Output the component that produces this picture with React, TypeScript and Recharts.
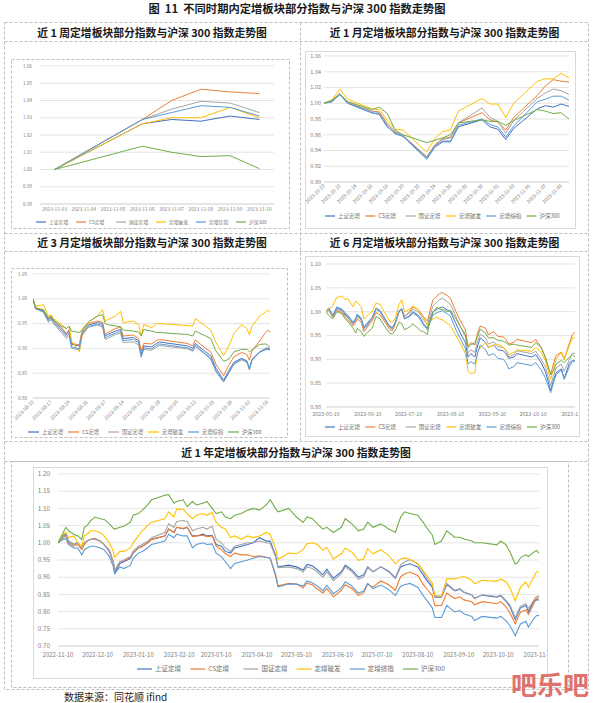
import React from 'react';
import { LineChart, Line, XAxis, YAxis, CartesianGrid } from 'recharts';

const seriesNames = ['上证定增', 'CS定增', '国证定增', '定增破发', '定增综指', '沪深300'];
const seriesColors = ['#4472C4', '#ED7D31', '#A5A5A5', '#FFC000', '#5B9BD5', '#70AD47'];

// ---------- 近1周 ----------
const wDates = ['2023-11-03', '2023-11-06', '2023-11-07', '2023-11-08', '2023-11-09', '2023-11-10'];
const wTickLabels = ['2023-11-03', '2023-11-04', '2023-11-05', '2023-11-06', '2023-11-07', '2023-11-08', '2023-11-09', '2023-11-10'];
const wSZ = [1.0, 1.0265, 1.029, 1.028, 1.031, 1.029];
const wCS = [1.0, 1.029, 1.04, 1.0465, 1.045, 1.044];
const wGZ = [1.0, 1.029, 1.035, 1.0395, 1.0385, 1.033];
const wPF = [1.0, 1.0265, 1.03, 1.03, 1.036, 1.03];
const wZZ = [1.0, 1.029, 1.033, 1.037, 1.036, 1.031];
const wHS = [1.0, 1.0135, 1.01, 1.0075, 1.008, 1.0005];
const wYTicks = [0.98, 0.99, 1.0, 1.01, 1.02, 1.03, 1.04, 1.05, 1.06];

// ---------- 近1月 ----------
const mDates = ['2023-10-10', '2023-10-11', '2023-10-12', '2023-10-13', '2023-10-16', '2023-10-17', '2023-10-18', '2023-10-19', '2023-10-20', '2023-10-23', '2023-10-24', '2023-10-25', '2023-10-26', '2023-10-27', '2023-10-30', '2023-10-31', '2023-11-01', '2023-11-02', '2023-11-03', '2023-11-06', '2023-11-07', '2023-11-08', '2023-11-09', '2023-11-10'];
const mTickLabels = ['2023-10-10', '2023-10-12', '2023-10-14', '2023-10-16', '2023-10-18', '2023-10-20', '2023-10-22', '2023-10-24', '2023-10-26', '2023-10-28', '2023-10-30', '2023-11-01', '2023-11-03', '2023-11-05', '2023-11-07', '2023-11-09'];
const mSZ = [1.0, 1.002, 1.011, 1.0, 0.988, 0.986, 0.97, 0.962, 0.958, 0.929, 0.944, 0.951, 0.951, 0.97, 0.979, 0.97, 0.967, 0.954, 0.968, 0.993, 0.997, 0.995, 0.999, 0.996];
const mCS = [1.0, 1.003, 1.012, 1.001, 0.99, 0.989, 0.974, 0.964, 0.959, 0.932, 0.947, 0.955, 0.957, 0.975, 0.988, 0.979, 0.976, 0.966, 0.982, 1.01, 1.022, 1.03, 1.028, 1.027];
const mGZ = [1.0, 1.003, 1.012, 1.001, 0.99, 0.988, 0.973, 0.963, 0.959, 0.931, 0.946, 0.954, 0.956, 0.975, 0.994, 0.982, 0.977, 0.962, 0.978, 1.006, 1.013, 1.018, 1.016, 1.011];
const mPF = [1.0, 1.004, 1.018, 1.005, 0.993, 0.992, 0.978, 0.967, 0.966, 0.938, 0.955, 0.964, 0.966, 0.99, 1.006, 0.999, 0.999, 0.982, 1.0, 1.028, 1.031, 1.031, 1.038, 1.032];
const mZZ = [1.0, 1.002, 1.011, 1.0, 0.988, 0.986, 0.971, 0.961, 0.958, 0.931, 0.945, 0.952, 0.952, 0.972, 0.98, 0.973, 0.97, 0.957, 0.971, 1.002, 1.005, 1.009, 1.009, 1.004];
const mHS = [1.0, 1.004, 1.012, 1.002, 0.992, 0.995, 0.987, 0.966, 0.96, 0.95, 0.953, 0.956, 0.96, 0.975, 0.979, 0.977, 0.977, 0.972, 0.978, 0.992, 0.99, 0.987, 0.988, 0.98];
const mYTicks = [0.9, 0.92, 0.94, 0.96, 0.98, 1.0, 1.02, 1.04, 1.06];

// ---------- 近3月 ----------
const qDates = ['2023-08-10', '2023-08-11', '2023-08-14', '2023-08-16', '2023-08-17', '2023-08-18', '2023-08-21', '2023-08-23', '2023-08-24', '2023-08-25', '2023-08-28', '2023-08-29', '2023-08-31', '2023-09-01', '2023-09-04', '2023-09-06', '2023-09-07', '2023-09-08', '2023-09-11', '2023-09-13', '2023-09-14', '2023-09-18', '2023-09-20', '2023-09-21', '2023-09-22', '2023-09-25', '2023-09-27', '2023-09-28', '2023-10-09', '2023-10-11', '2023-10-12', '2023-10-16', '2023-10-18', '2023-10-20', '2023-10-23', '2023-10-25', '2023-10-27', '2023-10-30', '2023-11-01', '2023-11-02', '2023-11-03', '2023-11-06', '2023-11-08', '2023-11-09', '2023-11-10'];
const qTickLabels = ['2023-08-10', '2023-08-17', '2023-08-24', '2023-08-31', '2023-09-07', '2023-09-14', '2023-09-21', '2023-09-28', '2023-10-05', '2023-10-12', '2023-10-19', '2023-10-26', '2023-11-02', '2023-11-09'];
const qSZ = [1.0, 0.981, 0.976, 0.958, 0.963, 0.955, 0.94, 0.928, 0.935, 0.908, 0.905, 0.932, 0.945, 0.948, 0.952, 0.95, 0.925, 0.928, 0.935, 0.938, 0.92, 0.922, 0.915, 0.888, 0.905, 0.903, 0.91, 0.913, 0.905, 0.9, 0.91, 0.893, 0.885, 0.86, 0.836, 0.855, 0.872, 0.88, 0.875, 0.86, 0.878, 0.893, 0.897, 0.898, 0.897];
const qCS = [1.0, 0.982, 0.978, 0.96, 0.965, 0.957, 0.942, 0.93, 0.938, 0.91, 0.907, 0.935, 0.948, 0.951, 0.955, 0.953, 0.928, 0.932, 0.94, 0.943, 0.925, 0.927, 0.92, 0.895, 0.91, 0.909, 0.916, 0.918, 0.91, 0.905, 0.917, 0.9, 0.893, 0.868, 0.845, 0.866, 0.883, 0.892, 0.888, 0.876, 0.895, 0.915, 0.93, 0.936, 0.934];
const qGZ = [1.0, 0.98, 0.973, 0.953, 0.958, 0.95, 0.932, 0.92, 0.926, 0.9, 0.897, 0.925, 0.94, 0.943, 0.947, 0.943, 0.918, 0.92, 0.928, 0.93, 0.912, 0.913, 0.907, 0.882, 0.898, 0.896, 0.903, 0.906, 0.899, 0.894, 0.904, 0.887, 0.878, 0.853, 0.832, 0.85, 0.868, 0.877, 0.872, 0.858, 0.876, 0.893, 0.9, 0.902, 0.9];
const qPF = [1.0, 0.985, 0.988, 0.965, 0.968, 0.96, 0.948, 0.94, 0.945, 0.915, 0.893, 0.925, 0.95, 0.955, 0.965, 0.978, 0.955, 0.958, 0.965, 0.975, 0.952, 0.955, 0.948, 0.925, 0.948, 0.942, 0.95, 0.95, 0.946, 0.945, 0.96, 0.945, 0.937, 0.912, 0.886, 0.905, 0.93, 0.948, 0.94, 0.927, 0.945, 0.965, 0.972, 0.978, 0.973];
const qZZ = [1.0, 0.98, 0.974, 0.955, 0.96, 0.952, 0.936, 0.924, 0.93, 0.903, 0.899, 0.928, 0.942, 0.945, 0.949, 0.946, 0.921, 0.924, 0.931, 0.934, 0.916, 0.918, 0.911, 0.884, 0.901, 0.899, 0.906, 0.909, 0.901, 0.896, 0.906, 0.889, 0.88, 0.855, 0.833, 0.852, 0.869, 0.878, 0.873, 0.857, 0.876, 0.892, 0.898, 0.9, 0.899];
const qHS = [1.0, 0.98, 0.978, 0.962, 0.965, 0.957, 0.945, 0.94, 0.945, 0.935, 0.932, 0.938, 0.95, 0.955, 0.965, 0.968, 0.95, 0.948, 0.945, 0.944, 0.937, 0.935, 0.933, 0.925, 0.938, 0.935, 0.932, 0.932, 0.928, 0.925, 0.935, 0.925, 0.92, 0.895, 0.874, 0.878, 0.893, 0.898, 0.898, 0.893, 0.897, 0.908, 0.909, 0.908, 0.902];
const qYTicks = [0.8, 0.85, 0.9, 0.95, 1.0, 1.05];

// ---------- 近6月 ----------
const hDates = ['2023-05-10', '2023-05-12', '2023-05-15', '2023-05-18', '2023-05-22', '2023-05-24', '2023-05-26', '2023-05-30', '2023-06-01', '2023-06-02', '2023-06-05', '2023-06-07', '2023-06-09', '2023-06-13', '2023-06-16', '2023-06-19', '2023-06-21', '2023-06-26', '2023-06-28', '2023-06-30', '2023-07-03', '2023-07-05', '2023-07-07', '2023-07-11', '2023-07-13', '2023-07-17', '2023-07-19', '2023-07-21', '2023-07-24', '2023-07-25', '2023-07-28', '2023-07-31', '2023-08-02', '2023-08-04', '2023-08-08', '2023-08-10', '2023-08-14', '2023-08-17', '2023-08-21', '2023-08-23', '2023-08-25', '2023-08-28', '2023-08-30', '2023-09-01', '2023-09-05', '2023-09-07', '2023-09-11', '2023-09-14', '2023-09-18', '2023-09-20', '2023-09-22', '2023-09-26', '2023-09-28', '2023-10-09', '2023-10-12', '2023-10-16', '2023-10-19', '2023-10-23', '2023-10-25', '2023-10-27', '2023-10-31', '2023-11-02', '2023-11-06', '2023-11-08', '2023-11-10'];
const hTickLabels = ['2023-05-10', '2023-06-10', '2023-07-10', '2023-08-10', '2023-09-10', '2023-10-10', '2023-11-10'];
const hSZ = [1.0, 1.005, 0.99, 1.008, 1.003, 0.995, 0.99, 0.975, 0.985, 0.992, 0.985, 0.965, 0.972, 0.985, 1.005, 1.0, 0.99, 0.968, 0.965, 0.975, 1.0, 1.005, 0.985, 0.992, 1.0, 0.993, 0.985, 0.975, 0.965, 0.975, 1.0, 1.005, 1.008, 1.01, 1.003, 1.0, 0.975, 0.957, 0.935, 0.905, 0.912, 0.905, 0.928, 0.945, 0.935, 0.925, 0.93, 0.92, 0.918, 0.912, 0.902, 0.905, 0.912, 0.905, 0.91, 0.893, 0.875, 0.835, 0.855, 0.872, 0.88, 0.86, 0.893, 0.897, 0.897];
const hCS = [1.0, 1.003, 0.988, 1.003, 0.998, 0.99, 0.983, 0.97, 0.978, 0.985, 0.978, 0.958, 0.965, 0.98, 0.998, 0.993, 0.985, 0.963, 0.96, 0.972, 1.0, 1.005, 0.99, 1.0, 1.01, 1.005, 0.998, 0.99, 0.98, 0.992, 1.025, 1.033, 1.038, 1.04, 1.033, 1.028, 1.0, 0.983, 0.962, 0.928, 0.935, 0.93, 0.955, 0.97, 0.965, 0.952, 0.958, 0.948, 0.947, 0.942, 0.932, 0.936, 0.942, 0.935, 0.942, 0.925, 0.905, 0.868, 0.89, 0.908, 0.915, 0.9, 0.935, 0.952, 0.957];
const hGZ = [1.0, 1.005, 0.99, 1.005, 1.0, 0.993, 0.988, 0.973, 0.982, 0.99, 0.982, 0.962, 0.968, 0.985, 1.005, 1.0, 0.99, 0.967, 0.963, 0.974, 1.002, 1.007, 0.99, 0.998, 1.005, 1.0, 0.992, 0.983, 0.972, 0.983, 1.012, 1.02, 1.025, 1.028, 1.02, 1.015, 0.99, 0.97, 0.947, 0.913, 0.92, 0.915, 0.938, 0.953, 0.945, 0.932, 0.937, 0.927, 0.925, 0.918, 0.905, 0.91, 0.918, 0.912, 0.917, 0.9, 0.885, 0.845, 0.865, 0.882, 0.89, 0.875, 0.9, 0.912, 0.913];
const hPF = [1.0, 1.005, 1.012, 1.03, 1.033, 1.025, 1.028, 1.01, 1.022, 1.02, 1.01, 0.985, 0.99, 1.0, 1.018, 1.015, 1.005, 0.98, 0.978, 0.985, 1.015, 1.025, 1.0, 1.005, 1.012, 1.005, 0.995, 0.988, 0.97, 0.978, 0.985, 0.988, 0.985, 0.983, 0.975, 0.97, 0.95, 0.935, 0.912, 0.875, 0.87, 0.872, 0.915, 0.925, 0.935, 0.925, 0.93, 0.932, 0.925, 0.92, 0.91, 0.915, 0.92, 0.917, 0.925, 0.915, 0.898, 0.858, 0.88, 0.9, 0.915, 0.9, 0.93, 0.945, 0.945];
const hZZ = [1.0, 1.008, 0.993, 1.01, 1.005, 0.998, 0.993, 0.978, 0.987, 0.995, 0.987, 0.968, 0.975, 0.988, 1.008, 1.003, 0.993, 0.97, 0.967, 0.977, 1.002, 1.006, 0.985, 0.99, 0.997, 0.99, 0.982, 0.972, 0.962, 0.97, 0.993, 0.998, 1.0, 1.002, 0.995, 0.99, 0.962, 0.945, 0.922, 0.89, 0.895, 0.89, 0.912, 0.93, 0.92, 0.908, 0.912, 0.902, 0.9, 0.893, 0.88, 0.885, 0.893, 0.887, 0.893, 0.878, 0.862, 0.83, 0.85, 0.868, 0.877, 0.858, 0.885, 0.895, 0.897];
const hHS = [1.0, 0.992, 0.985, 1.0, 0.995, 0.985, 0.98, 0.965, 0.955, 0.965, 0.958, 0.948, 0.955, 0.965, 0.99, 0.985, 0.975, 0.955, 0.953, 0.96, 0.978, 0.975, 0.962, 0.968, 0.975, 0.965, 0.96, 0.958, 0.952, 0.975, 0.998, 1.01, 1.005, 1.005, 1.0, 1.003, 0.985, 0.97, 0.952, 0.925, 0.93, 0.935, 0.948, 0.963, 0.955, 0.945, 0.945, 0.94, 0.938, 0.935, 0.93, 0.932, 0.93, 0.925, 0.935, 0.925, 0.905, 0.868, 0.875, 0.89, 0.898, 0.893, 0.905, 0.91, 0.905];
const hYTicks = [0.8, 0.85, 0.9, 0.95, 1.0, 1.05, 1.1];

// ---------- 近1年 ----------
const yDates = ['2022-11-10', '2022-11-14', '2022-11-16', '2022-11-18', '2022-11-22', '2022-11-25', '2022-11-28', '2022-11-30', '2022-12-02', '2022-12-05', '2022-12-08', '2022-12-12', '2022-12-15', '2022-12-19', '2022-12-22', '2022-12-23', '2022-12-27', '2022-12-30',
  '2023-01-04', '2023-01-06', '2023-01-10', '2023-01-13', '2023-01-17', '2023-01-20', '2023-01-30', '2023-02-02', '2023-02-06', '2023-02-08', '2023-02-13', '2023-02-16', '2023-02-20', '2023-02-23', '2023-02-28', '2023-03-03', '2023-03-07', '2023-03-10', '2023-03-14', '2023-03-17', '2023-03-21', '2023-03-24', '2023-03-29', '2023-04-03', '2023-04-07', '2023-04-12', '2023-04-17', '2023-04-20', '2023-04-24', '2023-04-26', '2023-05-04',
  '2023-05-10', '2023-05-15', '2023-05-18', '2023-05-22', '2023-05-26', '2023-05-30', '2023-06-02', '2023-06-07', '2023-06-13', '2023-06-16', '2023-06-21', '2023-06-26', '2023-06-30', '2023-07-03', '2023-07-07', '2023-07-13', '2023-07-19', '2023-07-24', '2023-07-28', '2023-07-31', '2023-08-04', '2023-08-10', '2023-08-14', '2023-08-17', '2023-08-21', '2023-08-23', '2023-08-28', '2023-09-01', '2023-09-07', '2023-09-11', '2023-09-14', '2023-09-20', '2023-09-22', '2023-09-28', '2023-10-09', '2023-10-12', '2023-10-16', '2023-10-19', '2023-10-23', '2023-10-25', '2023-10-27', '2023-10-31', '2023-11-02', '2023-11-06', '2023-11-08', '2023-11-10'];
const yTickLabels = ['2022-11-10', '2022-12-10', '2023-01-10', '2023-02-10', '2023-03-10', '2023-04-10', '2023-05-10', '2023-06-10', '2023-07-10', '2023-08-10', '2023-09-10', '2023-10-10', '2023-11-10'];
const ySZ = [1.0, 1.02, 1.025, 1.005, 0.995, 1.0, 0.985, 1.0, 1.005, 1.01, 1.012, 1.005, 0.995, 0.975, 0.94, 0.912, 0.94, 0.945,
  0.955, 0.97, 0.985, 0.99, 1.0, 1.01, 1.02, 1.04, 1.03, 1.045, 1.04, 1.045, 1.02, 1.02, 1.025, 1.02, 1.022, 0.995, 0.99, 0.975, 0.97, 0.985, 0.99, 0.995, 1.0, 1.015, 1.005, 1.005, 0.965, 0.93, 0.935,
  0.93, 0.921, 0.937, 0.933, 0.921, 0.907, 0.923, 0.897, 0.916, 0.935, 0.921, 0.9, 0.907, 0.93, 0.916, 0.93, 0.916, 0.897, 0.93, 0.935, 0.939, 0.93, 0.907, 0.89, 0.87, 0.842, 0.842, 0.879, 0.86, 0.865, 0.856, 0.848, 0.839, 0.848, 0.842, 0.846, 0.83, 0.814, 0.777, 0.795, 0.811, 0.818, 0.8, 0.83, 0.834, 0.834];
const yCS = [1.0, 1.015, 1.02, 1.0, 0.99, 0.995, 0.98, 0.995, 1.005, 1.01, 1.012, 1.005, 0.995, 0.978, 0.945, 0.92, 0.945, 0.948,
  0.958, 0.972, 0.985, 0.99, 1.0, 1.01, 1.02, 1.04, 1.03, 1.045, 1.042, 1.045, 1.018, 1.02, 1.022, 1.018, 1.02, 0.99, 0.98, 0.968, 0.96, 0.97, 0.965, 0.965, 0.96, 0.962, 0.958, 0.955, 0.91, 0.875, 0.882,
  0.88, 0.869, 0.883, 0.878, 0.865, 0.854, 0.867, 0.843, 0.862, 0.878, 0.867, 0.847, 0.855, 0.88, 0.871, 0.889, 0.878, 0.862, 0.902, 0.909, 0.915, 0.905, 0.88, 0.865, 0.847, 0.817, 0.818, 0.854, 0.838, 0.843, 0.834, 0.829, 0.82, 0.829, 0.823, 0.829, 0.814, 0.796, 0.764, 0.783, 0.799, 0.805, 0.792, 0.823, 0.838, 0.842];
const yGZ = [1.0, 1.015, 1.02, 1.005, 0.995, 0.998, 0.985, 1.0, 1.005, 1.01, 1.01, 1.005, 0.995, 0.978, 0.945, 0.92, 0.945, 0.95,
  0.96, 0.975, 0.99, 0.995, 1.005, 1.015, 1.03, 1.055, 1.045, 1.062, 1.065, 1.062, 1.035, 1.04, 1.045, 1.04, 1.048, 1.01, 1.0, 0.985, 0.975, 0.99, 0.995, 1.0, 1.0, 1.005, 1.0, 0.998, 0.96, 0.928, 0.93,
  0.925, 0.916, 0.93, 0.925, 0.914, 0.9, 0.916, 0.89, 0.911, 0.93, 0.916, 0.894, 0.901, 0.927, 0.916, 0.93, 0.918, 0.899, 0.936, 0.944, 0.951, 0.939, 0.916, 0.897, 0.876, 0.845, 0.846, 0.882, 0.862, 0.867, 0.857, 0.849, 0.837, 0.849, 0.844, 0.848, 0.833, 0.819, 0.782, 0.8, 0.816, 0.823, 0.809, 0.833, 0.844, 0.845];
const yPF = [1.0, 1.025, 1.03, 1.015, 1.02, 1.0, 0.99, 1.02, 1.025, 1.035, 1.035, 1.03, 1.02, 1.0, 0.975, 0.958, 0.975, 0.975,
  0.985, 1.0, 1.02, 1.035, 1.05, 1.06, 1.07, 1.09, 1.075, 1.098, 1.098, 1.085, 1.07, 1.08, 1.085, 1.08, 1.088, 1.06, 1.045, 1.04, 1.015, 1.02, 1.01, 1.02, 1.015, 1.02, 1.03, 1.025, 0.985, 0.952, 0.97,
  0.968, 0.98, 0.997, 1.0, 0.995, 0.978, 0.987, 0.953, 0.968, 0.985, 0.973, 0.949, 0.953, 0.983, 0.968, 0.98, 0.963, 0.939, 0.953, 0.956, 0.952, 0.939, 0.92, 0.905, 0.883, 0.847, 0.844, 0.895, 0.895, 0.9, 0.902, 0.891, 0.881, 0.891, 0.888, 0.895, 0.886, 0.869, 0.831, 0.852, 0.871, 0.886, 0.871, 0.9, 0.915, 0.915];
const yZZ = [1.0, 1.01, 1.012, 0.995, 0.985, 0.985, 0.965, 0.98, 0.985, 0.99, 0.99, 0.985, 0.98, 0.96, 0.93, 0.91, 0.93, 0.925,
  0.935, 0.955, 0.97, 0.975, 0.985, 0.995, 1.005, 1.025, 1.015, 1.025, 1.02, 1.02, 0.985, 0.995, 1.0, 0.995, 0.997, 0.97, 0.96, 0.945, 0.925, 0.94, 0.945, 0.95, 0.955, 0.96, 0.958, 0.955, 0.905, 0.872, 0.88,
  0.88, 0.874, 0.889, 0.884, 0.874, 0.861, 0.876, 0.852, 0.869, 0.887, 0.874, 0.854, 0.86, 0.882, 0.867, 0.877, 0.864, 0.847, 0.874, 0.878, 0.882, 0.871, 0.847, 0.832, 0.811, 0.783, 0.783, 0.818, 0.799, 0.803, 0.794, 0.786, 0.774, 0.786, 0.781, 0.786, 0.773, 0.759, 0.73, 0.748, 0.764, 0.772, 0.755, 0.779, 0.788, 0.789];
const yHS = [1.0, 1.03, 1.045, 1.035, 1.025, 1.02, 1.01, 1.045, 1.05, 1.065, 1.075, 1.07, 1.068, 1.055, 1.042, 1.04, 1.045, 1.048,
  1.06, 1.08, 1.085, 1.095, 1.11, 1.125, 1.138, 1.14, 1.115, 1.12, 1.125, 1.105, 1.12, 1.11, 1.115, 1.12, 1.1, 1.085, 1.09, 1.075, 1.07, 1.08, 1.085, 1.095, 1.1, 1.095, 1.11, 1.125, 1.1, 1.09, 1.1,
  1.075, 1.059, 1.075, 1.07, 1.054, 1.04, 1.045, 1.03, 1.045, 1.07, 1.055, 1.035, 1.04, 1.06, 1.045, 1.055, 1.04, 1.03, 1.075, 1.09, 1.085, 1.08, 1.06, 1.043, 1.023, 0.995, 1.005, 1.035, 1.016, 1.016, 1.011, 1.005, 1.0, 1.0, 0.994, 1.005, 0.994, 0.973, 0.938, 0.943, 0.957, 0.965, 0.96, 0.973, 0.978, 0.97];
const yYTicks = [0.7, 0.75, 0.8, 0.85, 0.9, 0.95, 1.0, 1.05, 1.1, 1.15, 1.2];

const FONT = "'Noto Sans CJK SC', 'Noto Sans', sans-serif";

const dayNum = (s: string) => {
  const [y, m, d] = s.split('-').map(Number);
  return Math.round(Date.UTC(y, m - 1, d) / 86400000);
};
const build = (dates: string[], cols: number[][]) => {
  const t0 = dayNum(dates[0]);
  return dates.map((d, i) => {
    const row: any = { t: dayNum(d) - t0 };
    cols.forEach((c, k) => { row['s' + k] = c[i]; });
    return row;
  });
};
const tickPos = (labels: string[], start: string) => labels.map((l) => dayNum(l) - dayNum(start));

function Panel(p: any) {
  const renderXTick = (tp: any) => {
    const idx = p.xTicks.indexOf(tp.payload.value);
    const label = idx >= 0 ? p.xLabels[idx] : '';
    if (p.rotate) {
      return (
        <text x={tp.x} y={tp.y} dy={p.xFont * 0.35} textAnchor="end" fontSize={p.xFont} fill="#808080"
          transform={`rotate(-45 ${tp.x} ${tp.y})`}>{label}</text>
      );
    }
    return <text x={tp.x} y={tp.y} dy={p.xFont * 0.85} textAnchor="middle" fontSize={p.xFont} fill="#808080">{label}</text>;
  };
  return (
    <div style={{ position: 'absolute', left: p.x, top: p.y, width: p.w, height: p.h, overflow: 'hidden', background: '#fff' }}>
      <LineChart width={p.w} height={p.h} data={p.data} margin={p.margin}>
        <CartesianGrid vertical={false} stroke="#d9d9d9" strokeWidth={0.7} />
        <XAxis type="number" dataKey="t" domain={p.xDomain} ticks={p.xTicks} interval={0} allowDataOverflow
          height={p.xHeight} tickLine={false} axisLine={{ stroke: '#d0d0d0', strokeWidth: 0.7 }} tickSize={0}
          tickMargin={p.xGap} tick={renderXTick} />
        <YAxis type="number" domain={p.yDomain} ticks={p.yTicks} interval={0} allowDataOverflow width={p.yWidth}
          tickLine={false} axisLine={false} tickSize={0} tickMargin={p.yGap}
          tick={{ fontSize: p.yFont, fill: '#808080' }} tickFormatter={(v: number) => v.toFixed(2)} />
        {seriesColors.map((c, i) => (
          <Line key={i} type="linear" dataKey={'s' + i} stroke={c} strokeWidth={p.sw || 1} dot={false}
            activeDot={false} isAnimationActive={false} />
        ))}
      </LineChart>
    </div>
  );
}

function LegendRow({ x0, y, step, len, fs }: any) {
  return (
    <g>
      {seriesNames.map((n, i) => (
        <g key={n}>
          <line x1={x0 + i * step} x2={x0 + i * step + len} y1={y} y2={y} stroke={seriesColors[i]} strokeWidth={1.2} />
          <text x={x0 + i * step + len + 3} y={y} dy={fs * 0.36} fontSize={fs} fill="#6f6f6f">{n}</text>
        </g>
      ))}
    </g>
  );
}

export default function App() {
  const wData = build(wDates, [wSZ, wCS, wGZ, wPF, wZZ, wHS]);
  const mData = build(mDates, [mSZ, mCS, mGZ, mPF, mZZ, mHS]);
  const qData = build(qDates, [qSZ, qCS, qGZ, qPF, qZZ, qHS]);
  const hData = build(hDates, [hSZ, hCS, hGZ, hPF, hZZ, hHS]);
  const yData = build(yDates, [ySZ, yCS, yGZ, yPF, yZZ, yHS]);

  const dash = { stroke: '#bdbdbd', strokeWidth: 1, strokeDasharray: '3 2', fill: 'none' };
  const solid = { stroke: '#d9d9d9', strokeWidth: 1, fill: 'none' };
  const head = { fontSize: 10.8, fontWeight: 700, fill: '#1a1a1a', textAnchor: 'middle' as const, dominantBaseline: 'central' as const };

  return (
    <div style={{ position: 'absolute', left: 0, top: 0, width: 594, height: 703, background: '#fff', fontFamily: FONT }}>
      <Panel x={11} y={59} w={279} h={170} margin={{ top: 7, right: 16, left: 0, bottom: 5 }} yWidth={29}
        yDomain={[0.98, 1.06]} yTicks={wYTicks} yFont={4.6} yGap={8} data={wData} xDomain={[-0.5, 7.5]}
        xTicks={tickPos(wTickLabels, wDates[0])} xLabels={wTickLabels} xFont={4.8} xGap={3} xHeight={20} />
      <Panel x={302} y={51} w={275} h={178} margin={{ top: 5, right: 8, left: 0, bottom: 7 }} yWidth={22}
        yDomain={[0.9, 1.06]} yTicks={mYTicks} yFont={5.5} yGap={3} data={mData} xDomain={[0, 31]}
        xTicks={tickPos(mTickLabels, mDates[0])} xLabels={mTickLabels} xFont={4.9} xGap={3} xHeight={40} rotate />
      <Panel x={11} y={268} w={276} h={170} margin={{ top: 6, right: 17, left: 0, bottom: 0 }} yWidth={22}
        yDomain={[0.8, 1.05]} yTicks={qYTicks} yFont={4.6} yGap={6} data={qData} xDomain={[0, 92]}
        xTicks={tickPos(qTickLabels, qDates[0])} xLabels={qTickLabels} xFont={5} xGap={3} xHeight={40} rotate />
      <Panel x={305} y={256} w={275} h={181} margin={{ top: 8, right: 5, left: 0, bottom: 10 }} yWidth={21}
        yDomain={[0.8, 1.1]} yTicks={hYTicks} yFont={5.5} yGap={5} data={hData} xDomain={[0, 184]}
        xTicks={tickPos(hTickLabels, hDates[0])} xLabels={hTickLabels} xFont={5.3} xGap={4} xHeight={20} />
      <Panel x={33} y={467} w={515} h={212} margin={{ top: 7, right: 9, left: 0, bottom: 13 }} yWidth={25}
        yDomain={[0.7, 1.2]} yTicks={yYTicks} yFont={6.3} yGap={8} data={yData} xDomain={[0, 365]}
        xTicks={tickPos(yTickLabels, yDates[0])} xLabels={yTickLabels} xFont={6} xGap={5.5} xHeight={20} sw={1.1} />

      <svg width={594} height={703} style={{ position: 'absolute', left: 0, top: 0, pointerEvents: 'none', fontFamily: FONT }}>
        <text x={297} y={8} fontSize={11.3} fontWeight={700} fill="#1a1a1a" textAnchor="middle" dominantBaseline="central"
          style={{ whiteSpace: 'pre' }}>{'图  11  不同时期内定增板块部分指数与沪深 300 指数走势图'}</text>

        <rect x={4.5} y={22.5} width={584} height={667} {...dash} />
        <line x1={4.5} x2={588.5} y1={41.5} y2={41.5} {...dash} />
        <line x1={4.5} x2={588.5} y1={233.5} y2={233.5} {...dash} />
        <line x1={4.5} x2={588.5} y1={251.5} y2={251.5} {...dash} />
        <line x1={4.5} x2={588.5} y1={441.5} y2={441.5} {...dash} />
        <line x1={4.5} x2={588.5} y1={461.5} y2={461.5} {...dash} />
        <line x1={300.5} x2={300.5} y1={22.5} y2={441.5} {...dash} />
        <rect x={11.5} y={59.5} width={278} height={169} {...dash} />
        <rect x={11.5} y={268.5} width={276} height={169} {...dash} />
        <rect x={11.5} y={461.5} width={557} height={226} {...dash} />
        <rect x={305.5} y={51.5} width={270} height={177} {...solid} />
        <rect x={305.5} y={256.5} width={274} height={180} {...solid} />
        <rect x={33.5} y={467.5} width={514} height={211} {...solid} />

        <text x={152} y={31.5} {...head}>近 1 周定增板块部分指数与沪深 300 指数走势图</text>
        <text x={444.5} y={31.5} {...head}>近 1 月定增板块部分指数与沪深 300 指数走势图</text>
        <text x={152} y={242} {...head}>近 3 月定增板块部分指数与沪深 300 指数走势图</text>
        <text x={444.5} y={242} {...head}>近 6 月定增板块部分指数与沪深 300 指数走势图</text>
        <text x={296} y={451.5} {...head}>近 1 年定增板块部分指数与沪深 300 指数走势图</text>

        <LegendRow x0={36} y={222} step={40} len={10} fs={4.8} />
        <LegendRow x0={325} y={216} step={40.3} len={10} fs={5.5} />
        <LegendRow x0={28} y={432} step={40} len={11} fs={5.3} />
        <LegendRow x0={325} y={427} step={40.4} len={10} fs={5.5} />
        <LegendRow x0={137} y={669} step={53.2} len={15} fs={6.5} />

        <text x={64} y={696} fontSize={10} fill="#222" dominantBaseline="central">数据来源：同花顺 ifind</text>
        <text x={511} y={683} fontSize={26} fontWeight={700} fill="#e0716d" dominantBaseline="central">吧乐吧</text>
      </svg>
    </div>
  );
}
